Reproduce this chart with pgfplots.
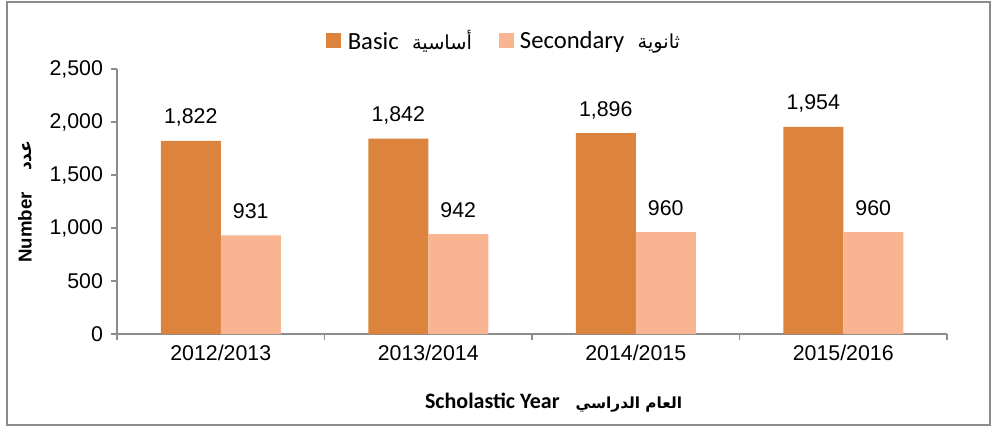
\documentclass[border=0pt]{standalone}
\usepackage{pgfplots}
\pgfplotsset{compat=1.18}
\usepackage{fontspec}
\setmainfont{Liberation Sans}
\newfontfamily\calibri{Carlito}
\newfontfamily\arabicfont[Script=Arabic]{DejaVu Sans}
\TeXXeTstate=1
\definecolor{basic}{HTML}{DC843E}
\definecolor{second}{HTML}{F9B591}
\definecolor{axgray}{HTML}{8C8C8C}

\begin{document}
\begin{tikzpicture}
\useasboundingbox (0,0) rectangle (745.5pt,-320.25pt);
\draw[axgray, line width=1.1pt] (5.25pt,-1.5pt) rectangle (742.5pt,-318.75pt);
\begin{axis}[
    at={(87.75pt,-250.5pt)}, anchor=south west,
    scale only axis, width=622.5pt, height=198.75pt,
    ybar=0pt, bar width=45pt,
    xmin=-0.5, xmax=3.5, ymin=0, ymax=2500,
    xtick={0,1,2,3},
    xticklabels={2012/2013,2013/2014,2014/2015,2015/2016},
    minor xtick={-0.5,0.5,1.5,2.5,3.5},
    ytick={0,500,...,2500},
    axis x line*=bottom, axis y line*=left,
    axis line style={axgray, line width=1.1pt, -},
    tick align=outside, major tick length=4.5pt, minor tick length=4.5pt,
    major x tick style={draw=none},
    minor x tick style={axgray, line width=1.1pt},
    ytick style={axgray, line width=1.1pt},
    tick label style={font=\fontsize{16}{19}\selectfont},
    yticklabel style={xshift=-2.5pt},
    /pgf/number format/assume math mode=true,
    /pgf/number format/1000 sep={,},
    scaled y ticks=false,
    nodes near coords,
    every node near coord/.append style={font=\fontsize{16}{19}\selectfont, inner sep=0pt, text depth=0pt, yshift=12.5pt},
    ylabel={Number\hspace{16pt}{\arabicfont\fontsize{13}{15}\selectfont\beginR عدد\endR}},
    ylabel style={at={(axis description cs:-0.1108,0.5)}, anchor=center, font=\bfseries\fontsize{14}{16}\selectfont},
    xlabel={{\calibri Scholastic Year}\hspace{12pt}{\arabicfont\fontsize{11.5}{14}\selectfont\beginR العام الدراسي\endR}},
    xlabel style={at={(axis description cs:0.526,-0.26)}, anchor=center, font=\bfseries\fontsize{16.5}{19}\selectfont},
    legend style={at={(0.467,1.106)}, anchor=center, draw=none, fill=none,
        legend columns=2, font=\calibri\fontsize{18.5}{22}\selectfont,
        /tikz/every even column/.append style={column sep=18pt}},
    legend image code/.code={\fill[#1] (0pt,-5.6pt) rectangle (11.25pt,5.6pt); \path (14pt,0pt);},
]
\addplot[fill=basic, draw=none] coordinates {(0,1822) (1,1842) (2,1896) (3,1954)};
\addlegendentry{Basic\hspace{10pt}{\arabicfont\fontsize{14.5}{17}\selectfont\beginR أساسية\endR}}
\addplot[fill=second, draw=none] coordinates {(0,931) (1,942) (2,960) (3,960)};
\addlegendentry{Secondary\hspace{10pt}{\arabicfont\fontsize{14.5}{17}\selectfont\beginR ثانوية\endR}}
\end{axis}
\end{tikzpicture}
\end{document}
